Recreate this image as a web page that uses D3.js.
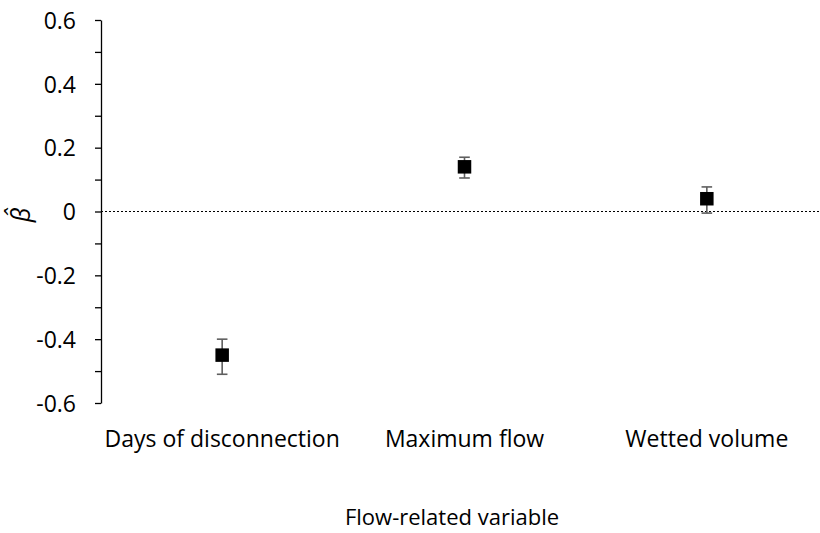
<!DOCTYPE html>
<html>
<head>
<meta charset="utf-8">
<script src="https://cdn.jsdelivr.net/npm/d3@7"></script>
<style>
  html, body { margin: 0; padding: 0; background: #fff; }
  svg { display: block; }
  text { font-family: "Open Sans", "Noto Sans", sans-serif; fill: #000; }
</style>
</head>
<body>
<svg id="chart" width="820" height="533"></svg>
<script>
// Flow-related variables and their standardized coefficient estimates
const categories = ["Days of disconnection", "Maximum flow", "Wetted volume"];
const estimates = [-0.45, 0.14, 0.04];
const lowerCI = [-0.51, 0.105, -0.005];
const upperCI = [-0.40, 0.17, 0.077];
const yTicks = [-0.6, -0.4, -0.2, 0, 0.2, 0.4, 0.6];
const yMinorTicks = [-0.5, -0.3, -0.1, 0.1, 0.3, 0.5];

const svg = d3.select("#chart");
const W = 820, H = 533;
const plot = { left: 101, right: 828, top: 20, bottom: 403 };
const labelSize = 23;

const x = d3.scalePoint()
  .domain(categories)
  .range([plot.left, plot.right])
  .padding(0.5);

const y = d3.scaleLinear()
  .domain([-0.6, 0.6])
  .range([plot.bottom, plot.top]);

const fmt = v => (Math.abs(v) < 1e-9 ? "0" : String(+v.toFixed(1)));

// Zero reference line (dotted)
svg.append("line")
  .attr("x1", plot.left).attr("x2", W)
  .attr("y1", y(0)).attr("y2", y(0))
  .attr("stroke", "#000")
  .attr("stroke-width", 1)
  .attr("stroke-dasharray", "2,2");

// Minor ticks
svg.append("g")
  .attr("transform", `translate(${plot.left},0)`)
  .call(d3.axisLeft(y).tickValues(yMinorTicks).tickSize(6).tickFormat(""))
  .call(g => g.select(".domain").remove())
  .call(g => g.selectAll("line").attr("stroke", "#000").attr("stroke-width", 1.3));

// Major axis
const yAxis = svg.append("g")
  .attr("transform", `translate(${plot.left},0)`)
  .call(d3.axisLeft(y).tickValues(yTicks).tickSize(6).tickSizeOuter(0).tickPadding(19).tickFormat(fmt));
yAxis.select(".domain").attr("stroke", "#000").attr("stroke-width", 1.3);
yAxis.selectAll(".tick line").attr("stroke", "#000").attr("stroke-width", 1.3);
yAxis.selectAll(".tick text")
  .attr("font-family", "'Open Sans', 'Noto Sans', sans-serif")
  .attr("font-size", labelSize)
  .attr("fill", "#000")
  .attr("dy", "0.36em");

// Category labels
svg.append("g")
  .selectAll("text")
  .data(categories)
  .join("text")
  .attr("x", d => x(d))
  .attr("y", 447)
  .attr("text-anchor", "middle")
  .attr("font-size", labelSize)
  .text(d => d);

// Axis titles
svg.append("text")
  .attr("x", 452)
  .attr("y", 525)
  .attr("text-anchor", "middle")
  .attr("font-size", 22)
  .text("Flow-related variable");

svg.append("text")
  .attr("transform", `translate(30,215) rotate(-90)`)
  .attr("text-anchor", "middle")
  .attr("font-family", "'DejaVu Serif', 'Liberation Serif', serif")
  .attr("font-style", "italic")
  .attr("font-size", 25)
  .text("\u03B2\u0302");

// Error bars
const capHalf = 5.3;
const bars = svg.append("g").attr("stroke", "#5f5f5f").attr("stroke-width", 1.6);
categories.forEach((c, i) => {
  const cx = x(c);
  bars.append("line").attr("x1", cx).attr("x2", cx).attr("y1", y(lowerCI[i])).attr("y2", y(upperCI[i]));
  bars.append("line").attr("x1", cx - capHalf).attr("x2", cx + capHalf).attr("y1", y(lowerCI[i])).attr("y2", y(lowerCI[i]));
  bars.append("line").attr("x1", cx - capHalf).attr("x2", cx + capHalf).attr("y1", y(upperCI[i])).attr("y2", y(upperCI[i]));
});

// Square markers
const sq = 13.5;
svg.append("g")
  .selectAll("rect")
  .data(categories)
  .join("rect")
  .attr("x", d => x(d) - sq / 2)
  .attr("y", (d, i) => y(estimates[i]) - sq / 2)
  .attr("width", sq)
  .attr("height", sq)
  .attr("fill", "#000");
</script>
</body>
</html>
